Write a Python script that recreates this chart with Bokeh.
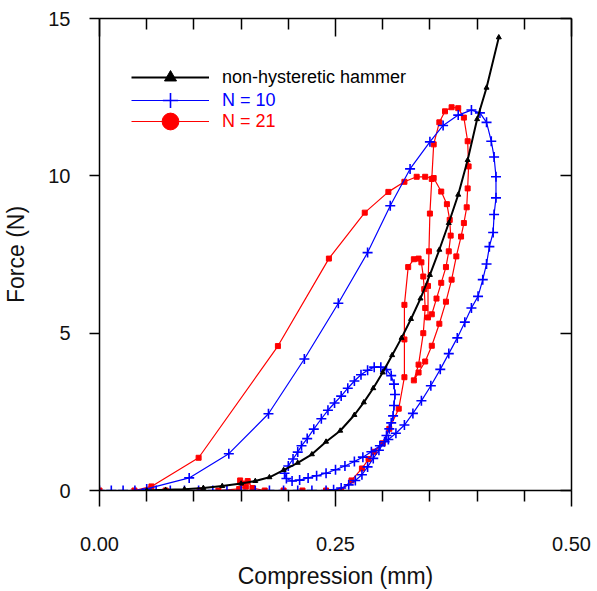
from bokeh.plotting import figure
from bokeh.models import Range1d, LinearAxis, FixedTicker, Legend, LegendItem
from bokeh.embed import file_html
from bokeh.resources import INLINE

# ---------------- data ----------------
x_major = [0.0, 0.25, 0.5]
x_minor = [0.05, 0.10, 0.15, 0.20, 0.30, 0.35, 0.40, 0.45]
x_labels = ["0.00", "0.25", "0.50"]
y_major = [0, 5, 10, 15]
y_labels = ["0", "5", "10", "15"]

black_x = [0.05, 0.07, 0.09, 0.11, 0.13, 0.15, 0.165, 0.18, 0.195, 0.21, 0.225, 0.24,
           0.255, 0.27, 0.28, 0.29, 0.30, 0.31, 0.32, 0.33, 0.34, 0.35, 0.36, 0.37,
           0.38, 0.39, 0.40, 0.41, 0.423]
black_F = [0.0, 0.02, 0.04, 0.08, 0.14, 0.22, 0.3, 0.42, 0.65, 0.88, 1.15, 1.55,
           1.9, 2.4, 2.8, 3.25, 3.75, 4.3, 4.85, 5.45, 6.1, 6.85, 7.65, 8.5,
           9.4, 10.5, 11.8, 12.8, 14.4]

blue_x = [0.0, 0.0125, 0.025, 0.0375, 0.05, 0.095, 0.137, 0.179, 0.217, 0.253, 0.284,
          0.308, 0.329, 0.35, 0.364, 0.38, 0.394, 0.403, 0.41, 0.415, 0.418, 0.42,
          0.42, 0.418, 0.417, 0.413, 0.41, 0.406, 0.401, 0.394, 0.387, 0.379, 0.37,
          0.361, 0.351, 0.341, 0.332, 0.323, 0.314, 0.306, 0.297, 0.288, 0.279, 0.27,
          0.26, 0.25, 0.24, 0.23, 0.221, 0.212, 0.204, 0.198, 0.196, 0.2, 0.205,
          0.21, 0.214, 0.22, 0.227, 0.235, 0.242, 0.249, 0.256, 0.263, 0.27, 0.277,
          0.284, 0.291, 0.298, 0.304, 0.309, 0.312, 0.313, 0.312, 0.311, 0.309,
          0.307, 0.304, 0.302, 0.296, 0.29, 0.284, 0.278, 0.271, 0.264, 0.256,
          0.248, 0.24, 0.225, 0.21, 0.195, 0.18, 0.165, 0.15, 0.135, 0.12, 0.105,
          0.09, 0.075, 0.06]
blue_F = [0.0, 0.0, 0.0, 0.0, 0.05, 0.4, 1.17, 2.44, 4.18, 5.95, 7.56,
          9.05, 10.22, 11.08, 11.6, 11.93, 12.09, 12.0, 11.7, 11.1, 10.6, 9.97,
          9.3, 8.77, 8.2, 7.75, 7.2, 6.7, 6.17, 5.8, 5.35, 4.85, 4.35,
          3.85, 3.33, 2.85, 2.45, 2.08, 1.82, 1.62, 1.42, 1.23, 1.06, 0.92,
          0.78, 0.66, 0.55, 0.47, 0.4, 0.33, 0.3, 0.38, 0.55, 0.78, 1.0,
          1.22, 1.42, 1.65, 1.95, 2.28, 2.55, 2.78, 3.0, 3.25, 3.48, 3.68,
          3.82, 3.92, 3.92, 3.84, 3.65, 3.38, 3.05, 2.7, 2.37, 2.15,
          1.96, 1.75, 1.55, 1.28, 1.02, 0.75, 0.5, 0.32, 0.18, 0.08,
          0.02, 0.0, 0.0, 0.0, 0.0, 0.0, 0.0, 0.0, 0.0, 0.0, 0.0,
          0.0, 0.0, 0.0]

red_x = [0.0, 0.037, 0.055, 0.105, 0.189, 0.243, 0.281, 0.306, 0.323, 0.336, 0.345,
         0.354, 0.362, 0.368, 0.371, 0.372, 0.37, 0.367, 0.362, 0.357, 0.352, 0.348,
         0.348, 0.349, 0.35, 0.352, 0.354, 0.36, 0.366, 0.373, 0.38, 0.386, 0.39,
         0.391, 0.39, 0.389, 0.386, 0.383, 0.378, 0.373, 0.367, 0.36, 0.352, 0.345,
         0.338, 0.333, 0.338, 0.343, 0.345, 0.344, 0.343, 0.341, 0.338, 0.333,
         0.327, 0.323, 0.323, 0.323, 0.317, 0.307, 0.3, 0.291, 0.285, 0.278, 0.267,
         0.256, 0.24, 0.215, 0.195, 0.175, 0.162, 0.157, 0.152, 0.149, 0.155, 0.148,
         0.126, 0.106, 0.07]
red_F = [0.0, 0.0, 0.13, 1.04, 4.59, 7.37, 8.83, 9.49, 9.81, 9.97, 9.97,
         9.93, 9.5, 9.1, 8.6, 8.1, 7.6, 7.1, 6.6, 6.1, 5.6, 5.5,
         6.5, 7.6, 8.8, 9.9, 11.0, 11.7, 12.05, 12.18, 12.15, 11.85, 11.1,
         10.3, 9.6, 9.0, 8.5, 8.07, 7.44, 6.7, 6.0, 5.3, 4.6, 4.1,
         3.75, 3.5, 4.0, 5.0, 5.8, 6.4, 6.8, 7.25, 7.37, 7.35,
         7.1, 5.9, 4.8, 3.6, 2.6, 1.96, 1.5, 1.23, 1.0, 0.7, 0.32,
         0.0, 0.0, 0.0, 0.0, 0.0, 0.08, 0.3, 0.22, 0.32, 0.12, 0.05,
         0.0, 0.0, 0.0]

series_names = ["non-hysteretic hammer", "N = 10", "N = 21"]

# ---------------- figure ----------------
FONT = "Liberation Sans"

p = figure(width=597, height=591, x_range=Range1d(0, 0.5), y_range=Range1d(0, 15),
           output_backend="svg", toolbar_location=None,
           min_border_left=99, min_border_right=26, min_border_top=18, min_border_bottom=99,
           x_axis_label="Compression (mm)", y_axis_label="Force (N)")
p.outline_line_color = None
p.grid.visible = False
p.background_fill_color = "white"

xt = FixedTicker(ticks=x_major, minor_ticks=x_minor)
yt = FixedTicker(ticks=y_major, minor_ticks=[])

xa = p.xaxis[0]
xa.ticker = xt
xa.major_label_overrides = {v: s for v, s in zip(x_major, x_labels)}
xa.major_tick_out = 16
xa.major_tick_in = 0
xa.minor_tick_out = 11
xa.minor_tick_in = 0
xa.major_label_standoff = 30
xa.axis_label_standoff = 9

ya = p.yaxis[0]
ya.ticker = yt
ya.major_label_overrides = {v: s for v, s in zip(y_major, y_labels)}
ya.major_tick_out = 10
ya.major_tick_in = 0
ya.major_label_standoff = 19
ya.axis_label_standoff = 16

for ax in (xa, ya):
    ax.axis_line_width = 1.5
    ax.major_tick_line_width = 1.5
    ax.minor_tick_line_width = 1.5
    ax.major_label_text_font = FONT
    ax.major_label_text_font_size = "20px"
    ax.major_label_text_color = "#111111"
    ax.axis_label_text_font = FONT
    ax.axis_label_text_font_size = "23px"
    ax.axis_label_text_font_style = "normal"
    ax.axis_label_text_color = "#111111"

top = LinearAxis(ticker=FixedTicker(ticks=x_major, minor_ticks=x_minor),
                 major_label_overrides={v: "" for v in x_major},
                 major_tick_in=18, major_tick_out=0, minor_tick_in=11, minor_tick_out=0,
                 major_label_standoff=0, major_label_text_font_size="0px",
                 axis_line_width=1.5, major_tick_line_width=1.5, minor_tick_line_width=1.5)
right = LinearAxis(ticker=FixedTicker(ticks=y_major, minor_ticks=[]),
                   major_label_overrides={v: "" for v in y_major},
                   major_tick_in=11, major_tick_out=0, minor_tick_in=0, minor_tick_out=0,
                   major_label_standoff=0, major_label_text_font_size="0px",
                   axis_line_width=1.5, major_tick_line_width=1.5)
p.add_layout(top, "above")
p.add_layout(right, "right")

# ---------------- series ----------------
r_line = p.line(red_x, red_F, line_color="#ff0000", line_width=1.2)
r_sc = p.scatter(red_x, red_F, marker="square", size=5, fill_color="#ff0000",
                 line_color="#ff0000")
b_line = p.line(blue_x, blue_F, line_color="#0000ff", line_width=1.2)
b_sc = p.scatter(blue_x, blue_F, marker="cross", size=10, line_color="#0000ff",
                 line_width=1.6)
k_line = p.line(black_x, black_F, line_color="#000000", line_width=2)
k_sc = p.scatter(black_x, black_F, marker="triangle", size=5, fill_color="#000000",
                 line_color="#000000")

# ---------------- legend (three one-item legends to colour each label) ----------------
leg_specs = [
    (series_names[0], [k_line, k_sc], "#000000", 30, (32, 398)),
    (series_names[1], [b_line, b_sc], "#0000ff", 38, (32, 371)),
    (series_names[2], [r_line, p.scatter(marker="circle", fill_color="#ff0000",
                                         line_color="#ff0000")], "#ff0000", 42, (32, 348)),
]
for label, rends, col, gh, loc in leg_specs:
    lg = Legend(items=[LegendItem(label=label, renderers=rends)], location=loc,
                glyph_width=78, glyph_height=gh, label_standoff=13,
                padding=0, margin=0, border_line_color=None,
                background_fill_alpha=0, label_text_color=col,
                label_text_font=FONT, label_text_font_size="18px")
    p.add_layout(lg, "center")

open("out.html", "w").write(file_html(p, INLINE))
